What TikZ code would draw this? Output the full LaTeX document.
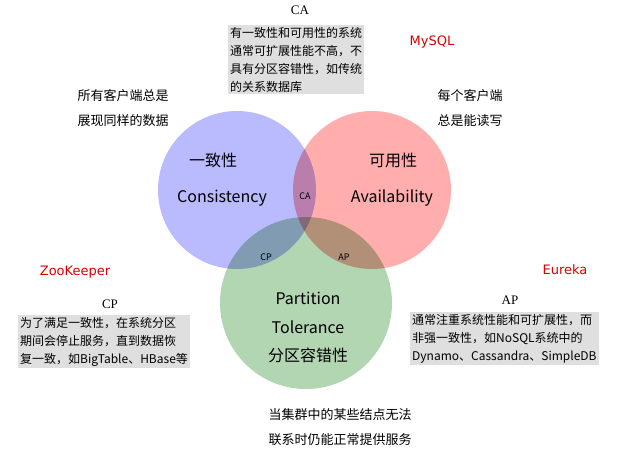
\documentclass[tikz,border=0pt]{standalone}
\usepackage{fontspec}
\setmainfont{Liberation Serif}
\newfontfamily\cjk{Noto Sans CJK SC}
\newfontfamily\latsans{DejaVu Sans}
\begin{document}
\begin{tikzpicture}[x=1pt,y=-1pt,
  setcircle/.style={blend mode=multiply},
  notebox/.style={fill=gray!25,inner sep=2pt,align=left,font=\cjk\fontsize{12}{18}\selectfont},
  plain/.style={font=\cjk\fontsize{13}{25}\selectfont,align=center},
  big/.style={font=\cjk\fontsize{16}{18}\selectfont},
  small/.style={font=\cjk\fontsize{9}{10}\selectfont},
  brand/.style={font=\latsans\fontsize{13}{15}\selectfont,text=red!85!black},
  caption/.style={font=\fontsize{13}{15}\selectfont}]
\useasboundingbox (0,0) rectangle (621,459);

% circles
\begin{scope}[setcircle]
\fill[blue!27] (237,190) circle (79);
\fill[red!32] (372,190) circle (79);
\fill[green!45!black!30!white] (306,303) circle (86);
\end{scope}

% labels inside circles
\node[big] (cn) at (213,160) {一致性};
\node[big] (ce) at (222,198) {Consistency};
\node[big] (an) at (393,160) {可用性};
\node[big] (ae) at (392,198) {Availability};
\node[small] (ca) at (305,196) {CA};
\node[small] (cp) at (266,257) {CP};
\node[small] (ap) at (344,257) {AP};
\node[big] (pt) at (308,298) {Partition};
\node[big] (tl) at (308,327) {Tolerance};
\node[big] (pn) at (308,355) {分区容错性};

% CA note
\node[caption] (catitle) at (300,10) {CA};
\node[notebox,anchor=north west] (canote) at (228,25) {有一致性和可用性的系统\\通常可扩展性能不高，不\\具有分区容错性，如传统\\的关系数据库};
\node[brand] (mysql) at (432,42) {MySQL};

% corner texts
\node[plain] (lefttxt) at (123,108) {所有客户端总是\\展现同样的数据};
\node[plain] (righttxt) at (470,108) {每个客户端\\总是能读写};
\node[plain] (bottomtxt) at (340,427) {当集群中的某些结点无法\\联系时仍能正常提供服务};

% CP note
\node[brand] (zk) at (75,272) {ZooKeeper};
\node[caption] (cptitle) at (110,304) {CP};
\node[notebox,anchor=north west] (cpnote) at (18,315) {为了满足一致性，在系统分区\\期间会停止服务，直到数据恢\\复一致，如BigTable、HBase等};

% AP note
\node[brand] (eureka) at (565,270) {Eureka};
\node[caption] (aptitle) at (510,300) {AP};
\node[notebox,anchor=north west] (apnote) at (410,312) {通常注重系统性能和可扩展性，而\\非强一致性，如NoSQL系统中的\\Dynamo、Cassandra、SimpleDB};
\end{tikzpicture}
\end{document}
